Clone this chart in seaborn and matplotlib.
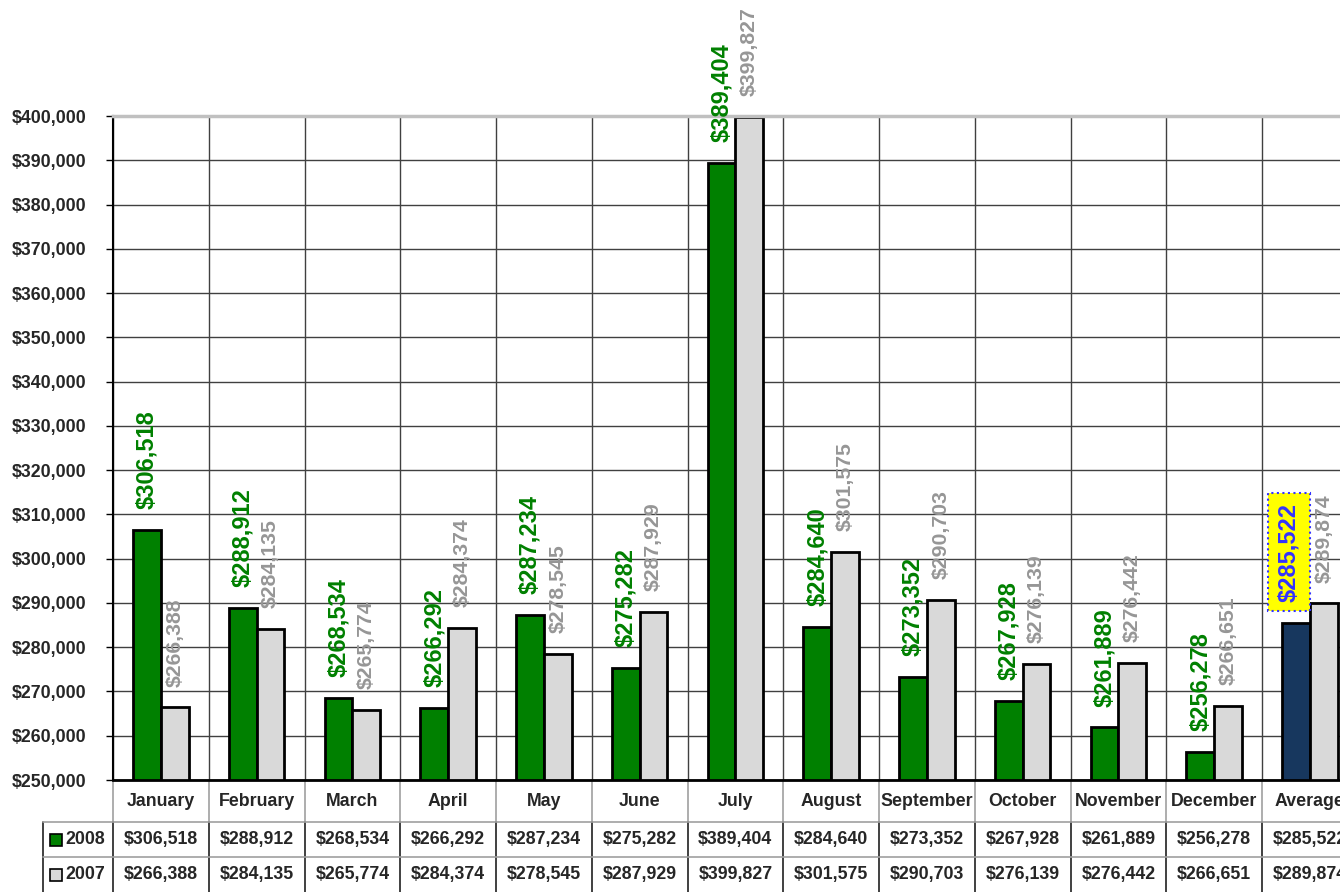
import pandas as pd
import numpy as np
import seaborn as sns
import matplotlib.pyplot as plt
import matplotlib.transforms as mtransforms
from matplotlib.ticker import MultipleLocator, FuncFormatter
from matplotlib.patches import Rectangle

sns.set_style("white")
plt.rcParams["font.family"] = ["Liberation Sans", "DejaVu Sans"]
plt.rcParams["font.weight"] = "bold"

# data
months = ["January", "February", "March", "April", "May", "June", "July",
          "August", "September", "October", "November", "December", "Average"]
sales_2008 = [306518, 288912, 268534, 266292, 287234, 275282, 389404,
              284640, 273352, 267928, 261889, 256278, 285522]
sales_2007 = [266388, 284135, 265774, 284374, 278545, 287929, 399827,
              301575, 290703, 276139, 276442, 266651, 289874]

df = pd.DataFrame({
    "month": months * 2,
    "year": ["2008"] * len(months) + ["2007"] * len(months),
    "price": sales_2008 + sales_2007,
})

green = "#008000"
light = "#D9D9D9"
navy = "#17375E"
label_grey = "#969696"

W, H = 1340, 892
fig = plt.figure(figsize=(W / 100, H / 100), dpi=100)
ax = fig.add_axes([113 / W, 112 / H, 1 - 113 / W, 664 / H])

sns.barplot(data=df, x="month", y="price", hue="year", hue_order=["2008", "2007"],
            palette={"2008": green, "2007": light}, saturation=1,
            edgecolor="black", linewidth=2, width=0.58, ax=ax, legend=False)

# average bar for 2008 in navy
ax.containers[0][-1].set_facecolor(navy)

ax.set_ylim(250000, 400000)
ax.set_xlim(-0.5, -0.5 + (W - 113) / 95.75)
ax.yaxis.set_major_locator(MultipleLocator(10000))
ax.yaxis.set_major_formatter(FuncFormatter(lambda v, p: f"${v:,.0f}"))
ax.tick_params(axis="y", length=5, width=1, color="black", labelsize=12.8, pad=14,
               left=True)
ax.set_xticks([])
ax.set_xlabel("")
ax.set_ylabel("")

# gridlines
for v in range(250000, 400000, 10000):
    ax.axhline(v, color="#404040", lw=1, zorder=0)
for b in np.arange(-0.5, 13, 1):
    ax.axvline(b, color="#404040", lw=1, zorder=0)

ax.spines["left"].set_color("black")
ax.spines["left"].set_linewidth(1.5)
ax.spines["bottom"].set_color("black")
ax.spines["bottom"].set_linewidth(2)
ax.spines["top"].set_color("#C0C0C0")
ax.spines["top"].set_linewidth(2.5)
ax.spines["right"].set_visible(False)

# data labels
for bar, val in zip(ax.containers[0], sales_2008):
    x = bar.get_x() + bar.get_width() / 2
    if val == sales_2008[-1]:
        ax.annotate(f"${val:,}", (x, val), xytext=(-5, 15), textcoords="offset points",
                    rotation=90, ha="center", va="bottom", color="#3333FF",
                    fontsize=17, fontweight="bold", annotation_clip=False,
                    bbox=dict(boxstyle="square,pad=0.4", fc="#FFFF00", ec="#3333FF",
                              ls=":", lw=1.5))
    else:
        ax.annotate(f"${val:,}", (x, val), xytext=(0, 15), textcoords="offset points",
                    rotation=90, ha="center", va="bottom", color=green,
                    fontsize=17, fontweight="bold", annotation_clip=False)
for bar, val in zip(ax.containers[1], sales_2007):
    x = bar.get_x() + bar.get_width() / 2
    ax.annotate(f"${val:,}", (x, val), xytext=(0, 15), textcoords="offset points",
                rotation=90, ha="center", va="bottom", color=label_grey,
                fontsize=15.3, fontweight="bold", annotation_clip=False)

# data table below the chart
tr = mtransforms.blended_transform_factory(ax.transData, ax.transAxes)
px = 1 / 664  # one pixel in axes-y units
y_head, y_r1, y_r2, y_bot = 0, -42 * px, -77 * px, -112 * px
left_leg = -0.5 - 70 / 95.75

for i, m in enumerate(months):
    ax.text(i, (y_head + y_r1) / 2, m, transform=tr, ha="center", va="center",
            fontsize=12.8, fontweight="bold", clip_on=False)
    ax.text(i, (y_r1 + y_r2) / 2, f"${sales_2008[i]:,}", transform=tr, ha="center",
            va="center", fontsize=12.8, fontweight="bold", clip_on=False)
    ax.text(i, (y_r2 + y_bot) / 2, f"${sales_2007[i]:,}", transform=tr, ha="center",
            va="center", fontsize=12.8, fontweight="bold", clip_on=False)

for b in np.arange(-0.5, 13, 1):
    ax.plot([b, b], [y_head, y_r1], transform=tr, color="#A0A0A0", lw=1.2, clip_on=False)
    ax.plot([b, b], [y_r1, y_bot], transform=tr, color="#202020", lw=1.2, clip_on=False)
ax.plot([left_leg, left_leg], [y_r1, y_bot], transform=tr, color="#202020", lw=1.2,
        clip_on=False)
for yy in (y_r1, y_r2):
    ax.plot([left_leg, 13], [yy, yy], transform=tr, color="#A0A0A0", lw=1.2, clip_on=False)

# legend keys in the table
for yy0, yy1, col, name in ((y_r1, y_r2, green, "2008"), (y_r2, y_bot, light, "2007")):
    yc = (yy0 + yy1) / 2
    ax.add_patch(Rectangle((left_leg + 7 / 95.75, yc - 6 * px), 12 / 95.75, 12 * px,
                           transform=tr, fc=col, ec="black", lw=1.2, clip_on=False))
    ax.text(left_leg + 22 / 95.75, yc, name, transform=tr, ha="left", va="center",
            fontsize=12.8, fontweight="bold", clip_on=False)

fig.savefig("out.png", dpi=100)
